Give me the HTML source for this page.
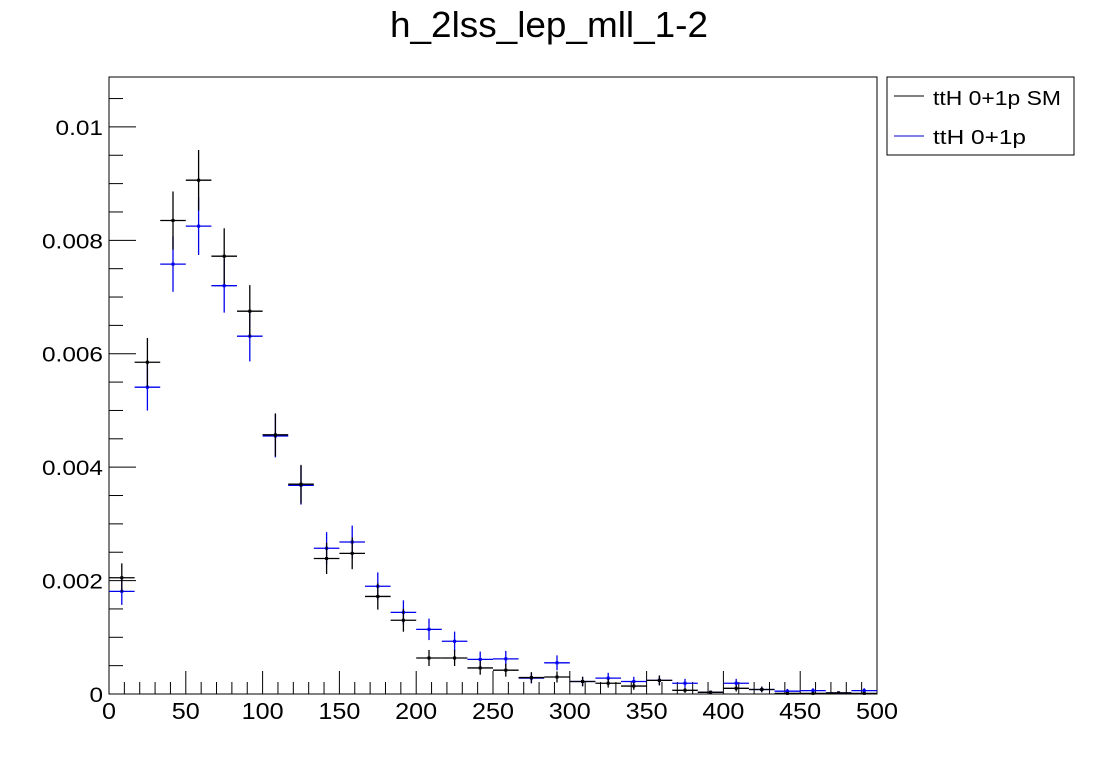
<!DOCTYPE html>
<html><head><meta charset="utf-8"><style>
body{margin:0;background:#fff;}
svg text{font-family:"Liberation Sans",sans-serif;}
</style></head><body>
<svg id="chart" width="1096" height="772" xmlns="http://www.w3.org/2000/svg">
<rect width="1096" height="772" fill="#fff"/>
<text x="390" y="37" font-size="36" textLength="318" lengthAdjust="spacingAndGlyphs">h_2lss_lep_mll_1-2</text>
<rect x="109" y="77" width="768" height="617" fill="none" stroke="#000" stroke-width="1"/>
<g id="axes"></g>
<g id="series"></g>
<g>
<rect x="887" y="77" width="187" height="78" fill="#fff" stroke="#000"/>
<line x1="894" y1="96" x2="924" y2="96" stroke="#000"/>
<text x="933" y="105" font-size="20" textLength="128" lengthAdjust="spacingAndGlyphs">ttH 0+1p SM</text>
<line x1="894" y1="136" x2="924" y2="136" stroke="#00c"/>
<text x="933" y="144" font-size="20" textLength="93" lengthAdjust="spacingAndGlyphs">ttH 0+1p</text>
</g>
</svg>
<script>
const nBins = 30;
const xMin = 0, xMax = 500;
const yMin = 0, yMax = 0.01088;
const xTickLabels = [0,50,100,150,200,250,300,350,400,450,500];
const yTickValues = [0,0.002,0.004,0.006,0.008,0.01];
const yTickLabels = ["0","0.002","0.004","0.006","0.008","0.01"];
const smValues = [0.00205,0.00585,0.00835,0.00906,0.00772,0.00675,0.00457,0.0037,0.00239,0.00248,0.00172,0.0013,0.000635,0.000635,0.00046,0.00042,0.00029,0.0003,0.00022,0.00019,0.00014,0.00024,0.000065,0.00003,0.0001,0.00008,0.00001,0.00001,0.00002,0.00001];
const bsmValues = [0.00181,0.00541,0.00758,0.00825,0.0072,0.00631,0.00455,0.00368,0.00257,0.00268,0.0019,0.00144,0.00114,0.00093,0.00061,0.00062,0.00028,0.00055,0.00022,0.00028,0.00022,0.00024,0.00019,0.00003,0.00019,0.00008,0.00005,0.00006,0.00002,0.00006];

const X0=109, X1=877, Y0=694, Y1=77;
const sx = v => X0 + (v-xMin)/(xMax-xMin)*(X1-X0);
const sy = v => Y0 - (v-yMin)/(yMax-yMin)*(Y0-Y1);
const NS="http://www.w3.org/2000/svg";
const axes=document.getElementById('axes'), series=document.getElementById('series');
function mk(tag, attrs, parent){const e=document.createElementNS(NS,tag);for(const k in attrs)e.setAttribute(k,attrs[k]);parent.appendChild(e);return e;}

for(let v=0; v<=500; v+=10){
  const major = v%50===0;
  const t=mk('line',{x1:sx(v),x2:sx(v),y1:Y0,y2:Y0-(major?23:12),stroke:'#000'},axes);
  
  
}
xTickLabels.forEach(v=>{
  const s=String(v);
  const t=mk('text',{x:sx(v),y:719,'font-size':23,'text-anchor':'middle',textLength:s.length*14,lengthAdjust:'spacingAndGlyphs'},axes);
  t.textContent=s;
  
  
});
for(let i=0;i*0.0005<=yMax;i++){
  const v=i*0.0005, major=i%4===0;
  const t=mk('line',{x1:X0,x2:X0+(major?27:14),y1:sy(v),y2:sy(v),stroke:'#000'},axes);
  
  
}
yTickValues.forEach((v,i)=>{
  const s=yTickLabels[i];
  const digits=s.replace('.','').length, dots=s.length-digits;
  const t=mk('text',{x:103,y:sy(v)+8,'font-size':21,'text-anchor':'end',textLength:digits*13.5+dots*7,lengthAdjust:'spacingAndGlyphs'},axes);
  t.textContent=s;
  
  
});

function drawSeries(vals,color,name){
  const w=(xMax-xMin)/nBins;
  vals.forEach((v,i)=>{
    const lo=xMin+i*w, c=lo+w/2, err=0.0056*Math.sqrt(v);
    const g=mk('g',{stroke:color,'stroke-width':1.3},series);
    
    
    mk('line',{x1:sx(lo),x2:sx(lo+w),y1:sy(v),y2:sy(v)},g);
    mk('line',{x1:sx(c),x2:sx(c),y1:Math.min(Y0,sy(v-err)),y2:sy(v+err)},g);
    mk('rect',{x:sx(c)-1.5,y:sy(v)-1.5,width:3,height:3,fill:color,stroke:'none'},g);
  });
}
drawSeries(bsmValues,'#0000ee','ttH-0p1p');
drawSeries(smValues,'#000','ttH-0p1p-sm');
</script>
</body></html>
